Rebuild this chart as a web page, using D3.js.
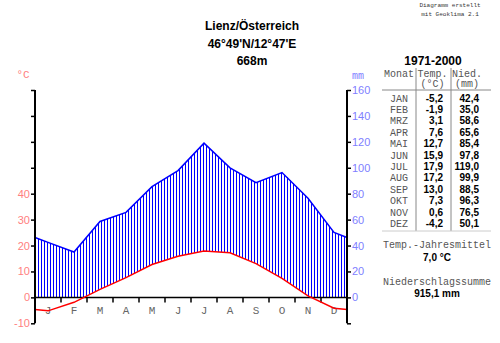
<!DOCTYPE html>
<html><head><meta charset="utf-8">
<script src="https://cdn.jsdelivr.net/npm/d3@7"></script>
<style>body{margin:0;background:#fff}svg{display:block}</style>
</head><body>
<script>
const months = ["J","F","M","A","M","J","J","A","S","O","N","D"];
const tableMonths = ["JAN","FEB","MRZ","APR","MAI","JUN","JUL","AUG","SEP","OKT","NOV","DEZ"];
const temps = [-5.2,-1.9,3.1,7.6,12.7,15.9,17.9,17.2,13.0,7.3,0.6,-4.2];
const precip = [42.4,35.0,58.6,65.6,85.4,97.8,119.0,99.9,88.5,96.3,76.5,50.1];
const tempTicks = [-10,0,10,20,30,40,50,60,70,80];
const tempLabels = [-10,0,10,20,30,40];
const precTicks = [-20,0,20,40,60,80,100,120,140,160];
const precLabels = [0,20,40,60,80,100,120,140,160];
const titleLines = ["Lienz/Österreich","46°49'N/12°47'E","668m"];
const period = "1971-2000";
const meanTemp = "7,0 °C";
const sumPrec = "915,1 mm";

const fmt = v => v.toFixed(1).replace(".", ",");
const W = 500, H = 343;
const svg = d3.select("body").append("svg").attr("width", W).attr("height", H);
const sans = "'Liberation Sans', Arial, sans-serif";
const mono = "'Liberation Mono', 'Courier New', monospace";

const x = d3.scaleLinear().domain([0, 12]).range([35, 347]);
const yT = d3.scaleLinear().domain([-10, 80]).range([323.3, 90]);
const yP = d3.scaleLinear().domain([-20, 160]).range([323.3, 90]);

// points incl. edge points (mean of Dec/Jan)
const edgeT = (temps[0] + temps[11]) / 2, edgeP = (precip[0] + precip[11]) / 2;
const tPts = [[0, edgeT]].concat(temps.map((v, i) => [i + 0.5, v]), [[12, edgeT]]);
const pPts = [[0, edgeP]].concat(precip.map((v, i) => [i + 0.5, v]), [[12, edgeP]]);
const interp = (pts, xv) => {
  for (let i = 0; i < pts.length - 1; i++) {
    if (xv >= pts[i][0] && xv <= pts[i + 1][0]) {
      const t = (xv - pts[i][0]) / (pts[i + 1][0] - pts[i][0]);
      return pts[i][1] + t * (pts[i + 1][1] - pts[i][1]);
    }
  }
  return pts[pts.length - 1][1];
};

// hatching
const hatchX = d3.range(x(0), x(12) + 0.01, 3);
svg.append("g").selectAll("line").data(hatchX).join("line")
  .attr("x1", d => d).attr("x2", d => d)
  .attr("y1", d => { const xv = x.invert(d); return Math.min(yT(Math.max(0, interp(tPts, xv))), yT(0)); })
  .attr("y2", d => yP(interp(pPts, x.invert(d))))
  .attr("stroke", "#0000ff").attr("stroke-width", 1)
  .attr("shape-rendering", "crispEdges");

// zero line / x axis
svg.append("line").attr("x1", x(0)).attr("x2", x(12)).attr("y1", yT(0)).attr("y2", yT(0))
  .attr("stroke", "#000").attr("stroke-width", 1.5);
svg.append("g").selectAll("line").data(d3.range(1, 12)).join("line")
  .attr("x1", d => x(d)).attr("x2", d => x(d)).attr("y1", yT(0)).attr("y2", yT(0) + 5)
  .attr("stroke", "#000").attr("stroke-width", 1.5);
svg.append("g").selectAll("text").data(months).join("text")
  .attr("x", (d, i) => x(i + 0.5)).attr("y", yT(0) + 17)
  .attr("text-anchor", "middle").attr("font-family", mono).attr("font-size", 11)
  .attr("fill", "#666").text(d => d);

// lines
const line = d3.line().x(d => x(d[0]));
svg.append("path").attr("d", line.y(d => yP(d[1]))(pPts))
  .attr("fill", "none").attr("stroke", "#0000ff").attr("stroke-width", 1.5);
svg.append("path").attr("d", d3.line().x(d => x(d[0])).y(d => yT(d[1]))(tPts))
  .attr("fill", "none").attr("stroke", "#ff0000").attr("stroke-width", 1.5);

// left axis
const gl = svg.append("g").attr("transform", `translate(${x(0)},0)`);
gl.call(d3.axisLeft(yT).tickValues(tempTicks).tickSize(4).tickFormat(d => tempLabels.includes(d) ? d : ""));
gl.select(".domain").attr("d", `M0,${yT(80)}V${yT(-10)}`).attr("stroke-width", 2);
gl.selectAll(".tick line").attr("stroke-width", 1.5);
gl.selectAll("text").attr("fill", "#ff8080").attr("font-family", sans).attr("font-size", 11).attr("x", -5);
// right axis
const gr = svg.append("g").attr("transform", `translate(${x(12)},0)`);
gr.call(d3.axisRight(yP).tickValues(precTicks).tickSize(4).tickFormat(d => precLabels.includes(d) ? d : ""));
gr.select(".domain").attr("d", `M0,${yP(160)}V${yP(-20)}`).attr("stroke-width", 2);
gr.selectAll(".tick line").attr("stroke-width", 1.5);
gr.selectAll("text").attr("fill", "#8080ff").attr("font-family", sans).attr("font-size", 11).attr("x", 5);
svg.selectAll(".domain").attr("stroke", "#000");

// unit labels
svg.append("text").attr("x", 23).attr("y", 78).attr("text-anchor", "middle")
  .attr("font-family", mono).attr("font-size", 11).attr("fill", "#ff8080").text("°C");
svg.append("text").attr("x", 358).attr("y", 79).attr("text-anchor", "middle")
  .attr("font-family", mono).attr("font-size", 10).attr("fill", "#8080ff").text("mm");

// title
svg.append("g").selectAll("text").data(titleLines).join("text")
  .attr("x", 252).attr("y", (d, i) => 30 + i * 17.5).attr("text-anchor", "middle")
  .attr("font-family", sans).attr("font-weight", "bold").attr("font-size", 12).text(d => d);

// credit
svg.append("g").selectAll("text").data(["Diagramm erstellt", "mit Geoklima 2.1"]).join("text")
  .attr("x", 450).attr("y", (d, i) => 7 + i * 8.5).attr("text-anchor", "middle")
  .attr("font-family", mono).attr("font-size", 6).attr("fill", "#333").text(d => d);

// table
svg.append("text").attr("x", 433).attr("y", 65).attr("text-anchor", "middle")
  .attr("font-family", sans).attr("font-weight", "bold").attr("font-size", 12).text(period);
const hdr = [["Monat", 399, 77], ["Temp.", 432.5, 77], ["Nied.", 467, 77], ["(°C)", 432.5, 87], ["(mm)", 467, 87]];
svg.append("g").selectAll("text").data(hdr).join("text")
  .attr("x", d => d[1]).attr("y", d => d[2]).attr("text-anchor", "middle")
  .attr("font-family", mono).attr("font-size", 10).attr("fill", "#555").text(d => d[0]);
svg.append("line").attr("x1", 416).attr("x2", 416).attr("y1", 68).attr("y2", 231).attr("stroke", "#888");
svg.append("line").attr("x1", 451).attr("x2", 451).attr("y1", 68).attr("y2", 231).attr("stroke", "#888");
svg.append("line").attr("x1", 382).attr("x2", 491).attr("y1", 90).attr("y2", 90).attr("stroke", "#888");
svg.append("line").attr("x1", 382).attr("x2", 491).attr("y1", 231).attr("y2", 231).attr("stroke", "#ccc");
const rowY = i => 101.5 + i * 11.4;
const rows = svg.append("g");
rows.selectAll(".m").data(tableMonths).join("text").attr("class", "m")
  .attr("x", 399).attr("y", (d, i) => rowY(i)).attr("text-anchor", "middle")
  .attr("font-family", mono).attr("font-size", 10).attr("fill", "#555").text(d => d);
rows.selectAll(".t").data(temps).join("text").attr("class", "t")
  .attr("x", 443).attr("y", (d, i) => rowY(i)).attr("text-anchor", "end")
  .attr("font-family", sans).attr("font-weight", "bold").attr("font-size", 10).text(d => fmt(d));
rows.selectAll(".p").data(precip).join("text").attr("class", "p")
  .attr("x", 479).attr("y", (d, i) => rowY(i)).attr("text-anchor", "end")
  .attr("font-family", sans).attr("font-weight", "bold").attr("font-size", 10).text(d => fmt(d));

const foot = [["Temp.-Jahresmittel", 248, false], [meanTemp, 261, true], ["Niederschlagssumme", 285, false], [sumPrec, 297, true]];
svg.append("g").selectAll("text").data(foot).join("text")
  .attr("x", 437).attr("y", d => d[1]).attr("text-anchor", "middle")
  .attr("font-family", d => d[2] ? sans : mono).attr("font-weight", d => d[2] ? "bold" : "normal")
  .attr("font-size", 10).attr("fill", d => d[2] ? "#000" : "#555").text(d => d[0]);
</script>
</body></html>
